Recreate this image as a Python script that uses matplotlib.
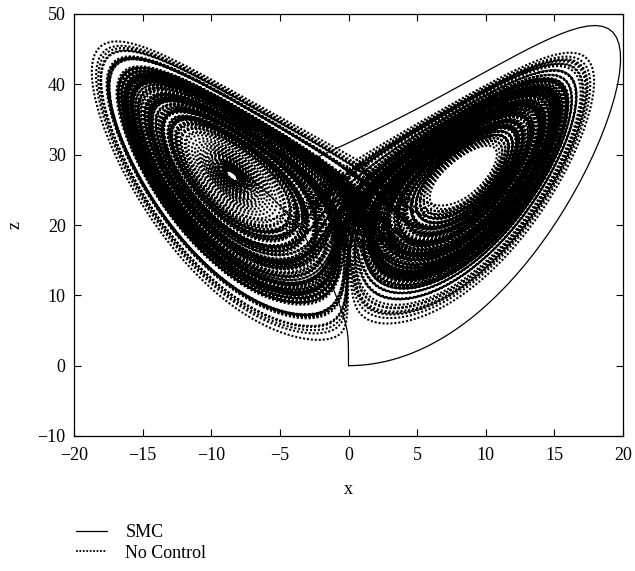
import numpy as np
import matplotlib
matplotlib.use("Agg")
import matplotlib.pyplot as plt

# Lorenz system parameters (classic chaotic regime)
sigma = 10.0
rho = 28.0
beta = 8.0 / 3.0

# Initial states
x0_smc = [0.01, 0.01, 0.0]
x0_free = [-8.2, -8.0, 27.3]

# Simulation settings
dt = 0.005
t_end_free = 220.0
t_end_smc = 12.0
t_control_on = 1.45     # time at which sliding-mode control is switched on
k_smc = 4.0
eta_smc = 3.0

x_ticks = [-20, -15, -10, -5, 0, 5, 10, 15, 20]
z_ticks = [-10, 0, 10, 20, 30, 40, 50]
series_labels = ["SMC", "No Control"]


def rhs(s, t, controlled):
    x, y, z = s
    dx = sigma * (y - x)
    dy = rho * x - y - x * z
    dz = x * y - beta * z
    if controlled and t >= t_control_on:
        sl = y + x
        u = -(rho * x - x * z) - sigma * (y - x) - k_smc * sl - eta_smc * np.tanh(sl / 0.3)
        dy = dy + u
    return np.array([dx, dy, dz])


def integrate(s0, t_end, controlled):
    n = int(t_end / dt)
    out = np.empty((n + 1, 3))
    s = np.array(s0, dtype=float)
    out[0] = s
    t = 0.0
    for i in range(n):
        k1 = rhs(s, t, controlled)
        k2 = rhs(s + 0.5 * dt * k1, t + 0.5 * dt, controlled)
        k3 = rhs(s + 0.5 * dt * k2, t + 0.5 * dt, controlled)
        k4 = rhs(s + dt * k3, t + dt, controlled)
        s = s + dt / 6.0 * (k1 + 2 * k2 + 2 * k3 + k4)
        t += dt
        out[i + 1] = s
    return out


traj_free = integrate(x0_free, t_end_free, False)
traj_smc = integrate(x0_smc, t_end_smc, True)

plt.rcParams["font.family"] = ["Liberation Serif", "DejaVu Serif"]
fig = plt.figure(figsize=(6.35, 5.71), dpi=100)
ax = fig.add_axes([74 / 635, 1 - 436 / 571, 549 / 635, 422 / 571])

l2, = ax.plot(traj_free[:, 0], traj_free[:, 2], color="black", lw=1.5,
              linestyle=(0, (1, 0.9)), label=series_labels[1])
l1, = ax.plot(traj_smc[:, 0], traj_smc[:, 2], color="black", lw=0.9,
              label=series_labels[0])

ax.set_xlim(-20, 20)
ax.set_ylim(-10, 50)
ax.set_xticks(x_ticks)
ax.set_yticks(z_ticks)
ax.set_xticklabels([f"{v}".replace("-", "\u2212") for v in x_ticks])
ax.set_yticklabels([f"{v}".replace("-", "\u2212") for v in z_ticks])
ax.tick_params(direction="in", top=True, right=True, labelsize=13, length=5, width=0.8)
ax.tick_params(axis="x", pad=8)
ax.tick_params(axis="y", pad=6)
for sp in ax.spines.values():
    sp.set_linewidth(0.9)
ax.set_xlabel("x", fontsize=13, labelpad=12)
ax.set_ylabel("z", fontsize=13, labelpad=10)

leg = fig.legend(handles=[l1, l2], labels=series_labels, loc="upper left",
                 bbox_to_anchor=(0.108, 0.095), frameon=False, fontsize=13,
                 handlelength=1.75, handletextpad=1.0, labelspacing=0.2, borderaxespad=0)
leg.get_lines()[1].set_linewidth(1.3)

fig.savefig("out.png", dpi=100)
